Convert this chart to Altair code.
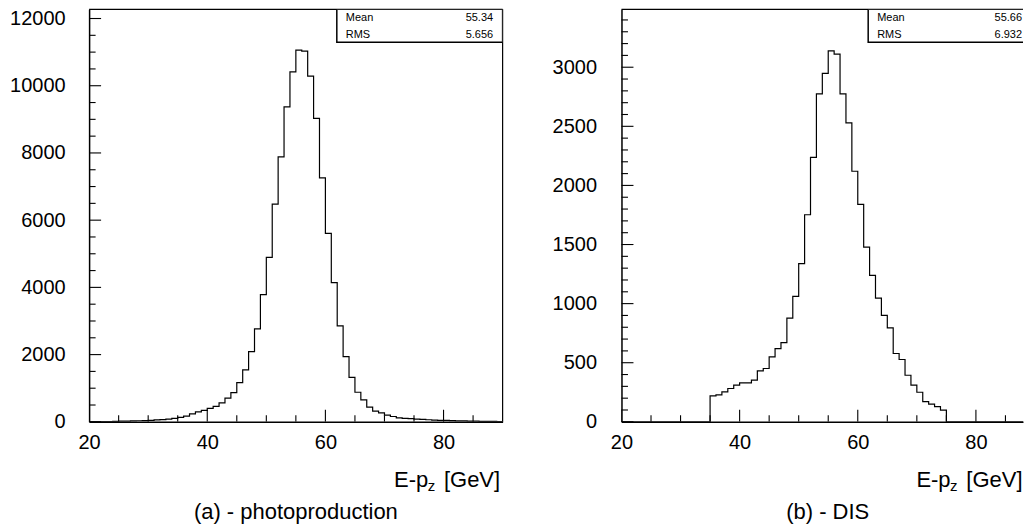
import altair as alt
import pandas as pd

# ---------------- data ----------------
bin_edges = list(range(20, 91))  # 70 bins of 1 GeV, 20..90

photo_counts = [
    5, 6, 8, 10, 12,                 # 20-24
    18, 22, 28, 32, 38,              # 25-29
    45, 55, 68, 82, 100,             # 30-34
    130, 170, 235, 295, 340,         # 35-39
    400, 460, 565, 703, 871,         # 40-44
    1168, 1545, 2089, 2764, 3784,    # 45-49
    4894, 6479, 7885, 9371, 10411,   # 50-54
    11060, 11030, 10283, 9026, 7261, # 55-59
    5607, 4141, 2853, 1941, 1320,    # 60-64
    880, 654, 436, 318, 265,         # 65-69
    200, 158, 119, 100, 92,          # 70-74
    80, 72, 62, 52, 45,              # 75-79
    40, 35, 30, 26, 22,              # 80-84
    20, 16, 14, 12, 10,              # 85-89
]

dis_counts = [
    0, 0, 0, 0, 0,                   # 20-24
    0, 0, 0, 0, 0,                   # 25-29
    0, 0, 0, 0, 0,                   # 30-34
    220, 228, 253, 282, 310,         # 35-39
    329, 329, 352, 431, 451,         # 40-44
    549, 620, 670, 878, 1062,        # 45-49
    1338, 1752, 2238, 2774, 2948,    # 50-54
    3139, 3111, 2774, 2529, 2120,    # 55-59
    1839, 1478, 1239, 1047, 901,     # 60-64
    794, 578, 527, 394, 310,         # 65-69
    250, 170, 150, 128, 99,          # 70-74
    0, 0, 0, 0, 0,                   # 75-79
    0, 0, 0, 0, 0,                   # 80-84
    0, 0, 0, 0, 0,                   # 85-89
]

x_major = [20, 40, 60, 80]
x_minor = [25, 30, 35, 45, 50, 55, 65, 70, 75, 85]

photo_y_major = [0, 2000, 4000, 6000, 8000, 10000, 12000]
photo_y_minor = [v for v in range(500, 12001, 500) if v % 2000 != 0]
dis_y_major = [0, 500, 1000, 1500, 2000, 2500, 3000]
dis_y_minor = [v for v in range(100, 3401, 100) if v % 500 != 0]

stat_names = ["Mean", "RMS"]
photo_stats = ["55.34", "5.656"]
dis_stats = ["55.66", "6.932"]

photo_caption = "(a) - photoproduction"
dis_caption = "(b) - DIS"

FONT = "Liberation Sans"
H = 413
PX_PER_GEV = 414 / 70.0


def panel(counts, ymax, y_major, y_minor, W, FW, stats, caption,
          ylabpad, right_frame):
    xmax = 20 + W / PX_PER_GEV
    xs = alt.Scale(domain=[20, xmax], nice=False, zero=False)
    ys = alt.Scale(domain=[0, ymax], nice=False, zero=False)
    xa = alt.Axis(
        values=x_major, ticks=False, labelPadding=10.5, format="d",
        labelFlush=False, grid=False, title=None,
        labelFontSize=20, labelFont=FONT, labelColor="black",
        domainColor="black", domainWidth=1.5)
    ya = alt.Axis(
        values=y_major, ticks=False, labelPadding=ylabpad, format="d",
        labelFlush=False, grid=False, title=None,
        labelFontSize=20, labelFont=FONT, labelColor="black",
        domainColor="black", domainWidth=1.5)

    hist_df = pd.DataFrame({"x": bin_edges, "n": counts + [counts[-1]]})
    hist = alt.Chart(hist_df).mark_line(
        interpolate="step-after", color="black", strokeWidth=1.2, clip=True
    ).encode(
        x=alt.X("x:Q", scale=xs, axis=xa),
        y=alt.Y("n:Q", scale=ys, axis=ya),
    )

    def xticks(vals, length):
        return alt.Chart(pd.DataFrame({"x": vals})).mark_rule(
            color="black", strokeWidth=1.1, clip=True
        ).encode(x=alt.X("x:Q", scale=xs, axis=xa),
                 y=alt.value(H), y2=alt.value(H - length))

    def yticks(vals, length):
        return alt.Chart(pd.DataFrame({"n": vals})).mark_rule(
            color="black", strokeWidth=1.1
        ).encode(y=alt.Y("n:Q", scale=ys, axis=ya),
                 x=alt.value(0), x2=alt.value(length))

    one = pd.DataFrame({"a": [0]})
    frame_top = alt.Chart(one).mark_rule(color="black", strokeWidth=1.2).encode(
        x=alt.value(0), x2=alt.value(W), y=alt.value(0))
    frame_right = alt.Chart(one).mark_rule(color="black", strokeWidth=1.2).encode(
        x=alt.value(W), y=alt.value(0), y2=alt.value(H))
    box = alt.Chart(one).mark_rect(
        fill="white", stroke="black", strokeWidth=1.5, clip=True
    ).encode(x=alt.value(FW - 166), x2=alt.value(FW), y=alt.value(0), y2=alt.value(33))

    val_x = min(FW - 9.5, W - 1)
    stat_df = pd.DataFrame({"name": stat_names, "val": stats, "yy": [11.7, 28.3]})
    names = alt.Chart(stat_df).mark_text(
        align="left", baseline="alphabetic", font=FONT, fontSize=11, color="black"
    ).encode(text="name:N", x=alt.value(FW - 157), y=alt.Y("yy:Q", scale=None))
    vals = alt.Chart(stat_df).mark_text(
        align="right", baseline="alphabetic", font=FONT, fontSize=11, color="black"
    ).encode(text="val:N", x=alt.value(val_x), y=alt.Y("yy:Q", scale=None))

    def label(txt, x, y, size, align):
        return alt.Chart(pd.DataFrame({"t": [txt]})).mark_text(
            align=align, baseline="alphabetic", font=FONT, fontSize=size, color="black"
        ).encode(text="t:N", x=alt.value(x), y=alt.value(y))

    gev_x = min(FW - 2.5, W - 0.5)
    t1 = label("E-p", gev_x - 72, 478.3, 22, "right")
    t2 = label("z", gev_x - 72.5, 482.7, 15, "left")
    t3 = label("[GeV]", gev_x, 478.3, 22, "right")
    cap = label(caption, FW / 2, 510.6, 22, "center")

    layers = [hist,
              xticks(x_major, 12), xticks(x_minor, 6.5),
              yticks(y_major, 12), yticks(y_minor, 6.5),
              frame_top]
    if right_frame:
        layers.append(frame_right)
    layers += [box, names, vals, t1, t2, t3, cap]
    return alt.layer(*layers).properties(
        width=W, height=H, view=alt.ViewBackground(stroke=None))


left = panel(photo_counts, 12274, photo_y_major, photo_y_minor, 414, 414,
             photo_stats, photo_caption, 24, True)
right = panel(dis_counts, 3490, dis_y_major, dis_y_minor, 402, 413,
              dis_stats, dis_caption, 25, False)

chart = alt.hconcat(left, right, spacing=48).properties(
    padding={"left": 1.2, "top": 0, "right": 0, "bottom": 0},
    background="white",
).configure_view(stroke=None)

chart.save("out.html", embed_options={"renderer": "svg", "actions": False})
